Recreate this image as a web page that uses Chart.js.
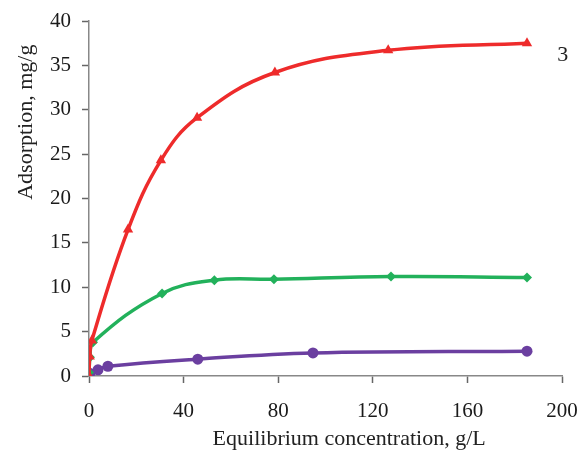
<!DOCTYPE html>
<html>
<head>
<meta charset="utf-8">
<script src="https://cdn.jsdelivr.net/npm/chart.js@4/dist/chart.umd.min.js"></script>
<style>
  html, body { margin: 0; padding: 0; background: #fff; }
  #wrap { width: 581px; height: 454px; }
</style>
</head>
<body>
<div id="wrap"><canvas id="c" width="581" height="454"></canvas></div>
<script>
// Equilibrium concentration (g/L) and adsorption (mg/g) for the three sorbents
const curve3X = [0, 0.3, 1.2, 16.5, 30.4, 45.7, 78.6, 126.5, 185.2];
const curve3Y = [0, 2.2, 4.0, 16.5, 24.3, 29.1, 34.2, 36.7, 37.5];

const curve2X = [0, 0.4, 1.7, 30.9, 53.0, 78.2, 127.7, 185.2];
const curve2Y = [0.4, 2.1, 3.8, 9.3, 10.8, 10.9, 11.2, 11.1];

const curve1X = [0, 0.3, 3.8, 8.0, 46.0, 94.7, 185.2];
const curve1Y = [0, 0.3, 0.7, 1.1, 1.9, 2.6, 2.8];

const xTicks = [0, 40, 80, 120, 160, 200];
const yTicks = [0, 5, 10, 15, 20, 25, 30, 35, 40];

const curveLabel = { text: '3', x: 198, y: 36.2 };
const yTitle = 'Adsorption, mg/g';
const xTitle = 'Equilibrium concentration, g/L';

const toPoints = (xs, ys) => xs.map((x, i) => ({ x: x, y: ys[i] }));

const FONT = '"Liberation Serif", "Times New Roman", serif';

// Axis titles and the curve number, placed from the scales
const extraText = {
  id: 'extraText',
  afterDraw(chart) {
    const { ctx, scales } = chart;
    ctx.save();
    ctx.fillStyle = '#222';
    ctx.font = '22px ' + FONT;
    ctx.textAlign = 'left';
    ctx.textBaseline = 'middle';
    ctx.fillText(curveLabel.text, scales.x.getPixelForValue(curveLabel.x), scales.y.getPixelForValue(curveLabel.y));

    ctx.textAlign = 'center';
    ctx.fillText(xTitle, scales.x.getPixelForValue(110), scales.x.bottom - 15);

    ctx.translate(26, scales.y.getPixelForValue(28.6));
    ctx.rotate(-Math.PI / 2);
    ctx.fillText(yTitle, 0, 0);
    ctx.restore();
  }
};

const line = (pts, color, style, radius, order) => ({
  data: pts,
  showLine: true,
  borderColor: color,
  backgroundColor: color,
  borderWidth: 3.5,
  tension: 0.4,
  pointStyle: style,
  pointRadius: radius,
  pointBorderWidth: 0,
  order: order
});

new Chart(document.getElementById('c'), {
  type: 'scatter',
  data: {
    datasets: [
      line(toPoints(curve3X, curve3Y), '#EE2B2B', 'triangle', 6, 0),
      line(toPoints(curve2X, curve2Y), '#22B15B', 'rectRot', 5, 1),
      line(toPoints(curve1X, curve1Y), '#6B3FA0', 'circle', 5.5, 2)
    ]
  },
  options: {
    responsive: false,
    animation: false,
    layout: { padding: { top: 21, right: 19, bottom: 0, left: 0 } },
    plugins: { legend: { display: false }, tooltip: { enabled: false } },
    scales: {
      x: {
        type: 'linear',
        min: 0, max: 200,
        afterBuildTicks: s => { s.ticks = xTicks.map(v => ({ value: v })); },
        afterFit: s => { s.height = 78; s.paddingLeft = 0; s.paddingRight = 0; },
        ticks: { font: { family: FONT, size: 21 }, color: '#1a1a1a', padding: 16 },
        grid: { drawOnChartArea: false, drawTicks: true, tickLength: 7, tickColor: '#666', tickWidth: 1.5, color: '#666' },
        border: { color: '#888', width: 1.5 }
      },
      y: {
        type: 'linear',
        min: 0, max: 40,
        afterBuildTicks: s => { s.ticks = yTicks.map(v => ({ value: v })); },
        afterFit: s => { s.width = 89; s.paddingTop = 0; s.paddingBottom = 0; },
        ticks: { font: { family: FONT, size: 21 }, color: '#1a1a1a', padding: 11 },
        grid: { drawOnChartArea: false, drawTicks: true, tickLength: 7, tickColor: '#666', tickWidth: 1.5, color: '#666' },
        border: { color: '#888', width: 1.5 }
      }
    }
  },
  plugins: [extraText]
});
</script>
</body>
</html>
